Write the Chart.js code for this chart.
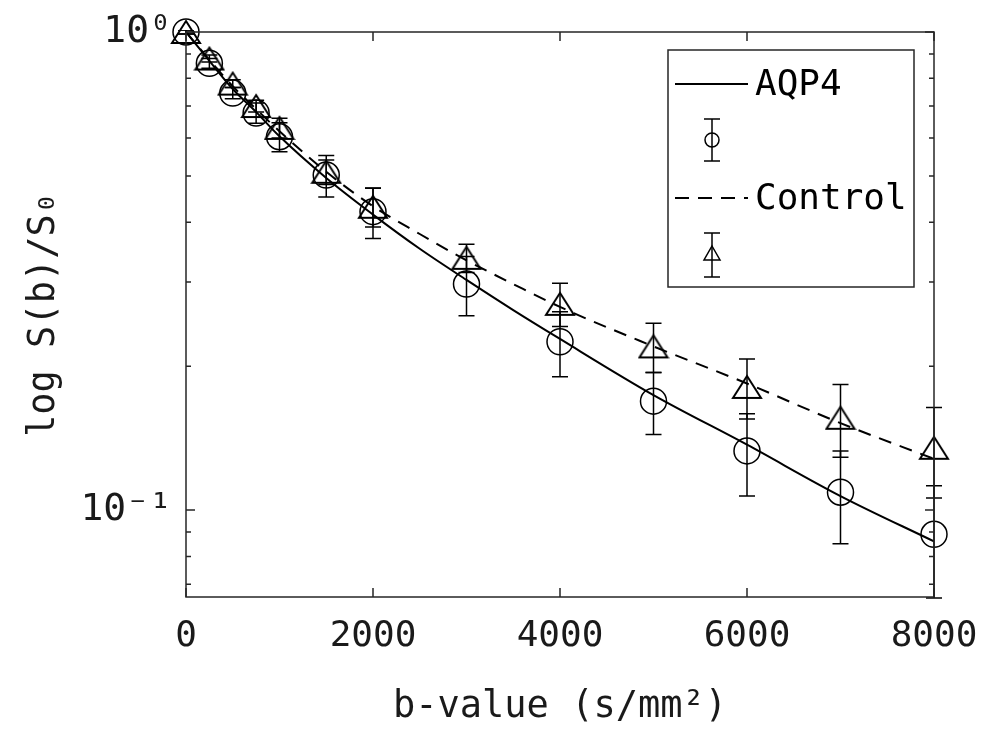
<!DOCTYPE html>
<html><head><meta charset="utf-8">
<script src="https://cdn.jsdelivr.net/npm/chart.js@4.4.1/dist/chart.umd.min.js"></script>
<style>html,body{margin:0;padding:0;background:#fff}</style>
</head><body>
<canvas id="c" width="990" height="736"></canvas>
<script>
// ---- data ----
const bValues     = [0, 250, 500, 750, 1000, 1500, 2000, 3000, 4000, 5000, 6000, 7000, 8000];
const aqp4Mean    = [1.0, 0.86, 0.745, 0.677, 0.604, 0.502, 0.421, 0.297, 0.225, 0.169, 0.133, 0.109, 0.089];
const aqp4Err     = [0.01, 0.02, 0.02, 0.033, 0.042, 0.05, 0.051, 0.042, 0.035, 0.025, 0.026, 0.024, 0.0235];
const controlMean = [1.0, 0.88, 0.78, 0.70, 0.63, 0.51, 0.431, 0.337, 0.270, 0.220, 0.181, 0.156, 0.135];
const controlErr  = [0.01, 0.015, 0.015, 0.02, 0.03, 0.03, 0.04, 0.023, 0.028, 0.026, 0.026, 0.027, 0.029];
const fitB        = [0, 250, 500, 750, 1000, 1500, 2000, 2500, 3000, 3500, 4000, 5000, 6000, 7000, 8000];
const aqp4Fit     = [1.0, 0.87, 0.76, 0.68, 0.605, 0.495, 0.415, 0.352, 0.303, 0.262, 0.228, 0.174, 0.137, 0.107, 0.086];
const controlFit  = [1.0, 0.875, 0.77, 0.69, 0.62, 0.51, 0.432, 0.378, 0.333, 0.297, 0.266, 0.22, 0.184, 0.152, 0.128];
const xTickValues = [0, 2000, 4000, 6000, 8000];
const yTickValues = [0.07, 0.08, 0.09, 0.1, 0.2, 0.3, 0.4, 0.5, 0.6, 0.7, 0.8, 0.9, 1];
const yMajorValues = [0.1, 1];
const yMajorLabels = ['10\u207B\u00B9', '10\u2070'];
const seriesNames = ['AQP4', 'Control'];
const xTitle = 'b-value (s/mm\u00B2)';
const yTitle = 'log S(b)/S\u2080';

const FONT = 'DejaVu Sans Mono';
const INK = '#1a1a1a';
const FS = 36;

function triangleCanvas(w, h, lw) {
  const c = document.createElement('canvas');
  c.width = w + 4; c.height = h + 4;
  const g = c.getContext('2d');
  g.strokeStyle = '#000'; g.lineWidth = lw; g.lineJoin = 'miter';
  g.beginPath();
  g.moveTo(c.width / 2, 2);
  g.lineTo(c.width - 2, h + 2);
  g.lineTo(2, h + 2);
  g.closePath();
  g.stroke();
  return c;
}
const triBig = triangleCanvas(28, 22, 2);

const pts = (xs, ys) => xs.map((b, i) => ({x: b, y: ys[i]}));

const decor = {
  id: 'decor',
  afterDatasetsDraw(chart) {
    const {ctx, chartArea: ca, scales: {x, y}} = chart;
    ctx.save();
    ctx.beginPath();
    ctx.rect(ca.left - 20, ca.top - 2, ca.right - ca.left + 40, ca.bottom - ca.top + 4);
    ctx.clip();
    ctx.strokeStyle = '#000';
    ctx.lineWidth = 1.5;
    const drawErr = (means, errs) => {
      bValues.forEach((b, i) => {
        const px = x.getPixelForValue(b);
        const yt = y.getPixelForValue(means[i] + errs[i]);
        const yb = y.getPixelForValue(Math.max(means[i] - errs[i], 0.001));
        ctx.beginPath();
        ctx.moveTo(px, yt); ctx.lineTo(px, yb);
        ctx.moveTo(px - 8, yt); ctx.lineTo(px + 8, yt);
        ctx.moveTo(px - 8, yb); ctx.lineTo(px + 8, yb);
        ctx.stroke();
      });
    };
    drawErr(aqp4Mean, aqp4Err);
    drawErr(controlMean, controlErr);
    ctx.restore();
  },
  afterDraw(chart) {
    const {ctx, chartArea: ca, scales: {x, y}} = chart;
    ctx.save();
    // axes box
    ctx.strokeStyle = '#262626';
    ctx.lineWidth = 1.5;
    ctx.strokeRect(ca.left, ca.top, ca.right - ca.left, ca.bottom - ca.top);
    // inward ticks
    ctx.beginPath();
    y.ticks.forEach(t => {
      const py = y.getPixelForValue(t.value);
      const len = yMajorValues.includes(t.value) ? 9 : 5;
      ctx.moveTo(ca.left, py); ctx.lineTo(ca.left + len, py);
      ctx.moveTo(ca.right, py); ctx.lineTo(ca.right - len, py);
    });
    x.ticks.forEach(t => {
      const px = x.getPixelForValue(t.value);
      ctx.moveTo(px, ca.bottom); ctx.lineTo(px, ca.bottom - 9);
      ctx.moveTo(px, ca.top); ctx.lineTo(px, ca.top + 9);
    });
    ctx.stroke();

    // legend
    const L = {x: 668, y: 50, w: 246, h: 237};
    ctx.fillStyle = '#fff';
    ctx.fillRect(L.x, L.y, L.w, L.h);
    ctx.strokeStyle = '#262626';
    ctx.lineWidth = 1.5;
    ctx.strokeRect(L.x, L.y, L.w, L.h);
    ctx.strokeStyle = '#000';
    ctx.lineWidth = 2;
    ctx.beginPath(); ctx.moveTo(675, 84); ctx.lineTo(748, 84); ctx.stroke();
    ctx.setLineDash([14, 9]);
    ctx.beginPath(); ctx.moveTo(675, 198); ctx.lineTo(748, 198); ctx.stroke();
    ctx.setLineDash([]);
    ctx.lineWidth = 1.5;
    const mx = 712;
    const legErr = (cy, half) => {
      ctx.beginPath();
      ctx.moveTo(mx, cy - half); ctx.lineTo(mx, cy + half);
      ctx.moveTo(mx - 8, cy - half); ctx.lineTo(mx + 8, cy - half);
      ctx.moveTo(mx - 8, cy + half); ctx.lineTo(mx + 8, cy + half);
      ctx.stroke();
    };
    legErr(140, 21);
    ctx.beginPath(); ctx.arc(mx, 140, 7, 0, Math.PI * 2); ctx.stroke();
    legErr(255, 22);
    ctx.beginPath();
    ctx.moveTo(mx, 246); ctx.lineTo(mx + 8, 260); ctx.lineTo(mx - 8, 260); ctx.closePath();
    ctx.stroke();
    ctx.fillStyle = '#000';
    ctx.font = FS + 'px "' + FONT + '"';
    ctx.textBaseline = 'middle';
    ctx.textAlign = 'left';
    ctx.fillText(seriesNames[0], 755, 86);
    ctx.fillText(seriesNames[1], 755, 200);
    ctx.restore();
  }
};

new Chart(document.getElementById('c'), {
  type: 'scatter',
  data: {
    datasets: [
      {
        label: seriesNames[0] + ' fit',
        data: pts(fitB, aqp4Fit),
        showLine: true, pointRadius: 0,
        borderColor: '#000', borderWidth: 2,
        cubicInterpolationMode: 'monotone'
      },
      {
        label: seriesNames[1] + ' fit',
        data: pts(fitB, controlFit),
        showLine: true, pointRadius: 0,
        borderColor: '#000', borderWidth: 2, borderDash: [13, 9],
        cubicInterpolationMode: 'monotone'
      },
      {
        label: seriesNames[0],
        data: pts(bValues, aqp4Mean),
        showLine: false,
        pointStyle: 'circle', pointRadius: 13, pointBorderWidth: 1.5,
        pointBorderColor: '#000', pointBackgroundColor: 'rgba(0,0,0,0)',
        clip: false
      },
      {
        label: seriesNames[1],
        data: pts(bValues, controlMean),
        showLine: false,
        pointStyle: triBig, pointRadius: 13,
        pointBorderColor: '#000', pointBackgroundColor: 'rgba(0,0,0,0)',
        clip: false
      }
    ]
  },
  options: {
    responsive: false,
    devicePixelRatio: 1,
    animation: false,
    events: [],
    layout: {padding: {top: 32, right: 56, left: 0, bottom: 0}},
    plugins: {legend: {display: false}, tooltip: {enabled: false}},
    scales: {
      x: {
        type: 'linear', min: 0, max: 8000,
        afterBuildTicks: s => { s.ticks = xTickValues.map(v => ({value: v})); },
        afterFit: s => { s.height = 139; s.paddingLeft = 0; s.paddingRight = 0; },
        grid: {display: false, drawTicks: false},
        border: {display: false},
        ticks: {
          autoSkip: false, maxRotation: 0, padding: 18, color: INK,
          font: {family: FONT, size: FS},
          callback: v => String(v)
        },
        title: {display: true, text: xTitle, color: INK,
                font: {family: FONT, size: FS + 1}, padding: {top: 0, bottom: 6}}
      },
      y: {
        type: 'logarithmic', min: 0.0658, max: 1,
        afterBuildTicks: s => { s.ticks = yTickValues.map(v => ({value: v})); },
        afterFit: s => { s.width = 186; s.paddingTop = 0; s.paddingBottom = 0; },
        grid: {display: false, drawTicks: false},
        border: {display: false},
        ticks: {
          autoSkip: false, padding: 14, color: INK,
          font: {family: FONT, size: FS + 2},
          callback: v => {
            const k = yMajorValues.findIndex(m => Math.abs(m - v) < 1e-9);
            return k >= 0 ? yMajorLabels[k] : '';
          }
        },
        title: {display: true, text: yTitle, color: INK,
                font: {family: FONT, size: FS + 1}, padding: {top: 22, bottom: 0}}
      }
    }
  },
  plugins: [decor]
});
</script>
</body></html>
